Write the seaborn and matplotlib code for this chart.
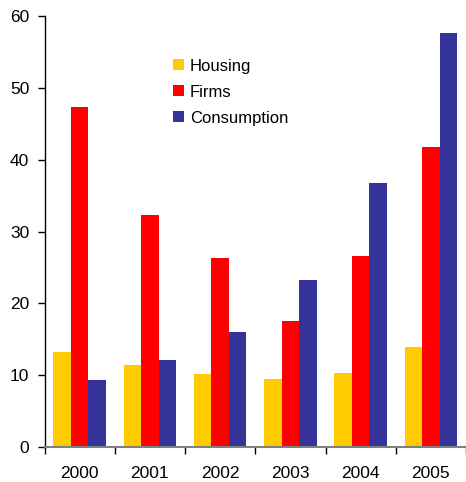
import matplotlib
matplotlib.use("Agg")
import matplotlib.pyplot as plt
import seaborn as sns
import pandas as pd
from matplotlib.ticker import FixedLocator

years = ["2000", "2001", "2002", "2003", "2004", "2005"]
housing = [13.2, 11.4, 10.2, 9.4, 10.3, 13.9]
firms = [47.3, 32.3, 26.3, 17.5, 26.6, 41.8]
consumption = [9.3, 12.1, 16.0, 23.2, 36.8, 57.6]
series = ["Housing", "Firms", "Consumption"]
colors = ["#FFCC00", "#FF0000", "#333399"]

df = pd.DataFrame({
    "year": years * 3,
    "value": housing + firms + consumption,
    "series": [s for s in series for _ in years],
})

sns.set_style("white")
plt.rcParams["font.family"] = ["Liberation Sans", "DejaVu Sans"]
plt.rcParams["text.color"] = "black"
plt.rcParams["xtick.color"] = "black"
plt.rcParams["ytick.color"] = "black"

fig = plt.figure(figsize=(4.66, 4.82), dpi=100)
ax = fig.add_axes([44.5 / 466, 35 / 482, (466 - 44.5) / 466, 431 / 482])

sns.barplot(data=df, x="year", y="value", hue="series", order=years,
            hue_order=series, palette=colors, width=0.75, gap=0,
            saturation=1, linewidth=0, ax=ax)

ax.set_xlim(-0.5, 5.5)
ax.set_ylim(0, 60)
ax.set_yticks(range(0, 61, 10))
ax.set_xlabel("")
ax.set_ylabel("")

for side in ["top", "right"]:
    ax.spines[side].set_visible(False)
ax.spines["left"].set_color("black")
ax.spines["left"].set_linewidth(1.0)
ax.spines["bottom"].set_color("#808080")
ax.spines["bottom"].set_linewidth(1.5)

ax.tick_params(axis="y", direction="out", length=5, width=1, color="black",
               pad=6, labelsize=12.5, left=True, labelcolor="black")
ax.tick_params(axis="x", which="major", length=0, pad=14, labelsize=12.5,
               labelcolor="black")
ax.xaxis.set_minor_locator(FixedLocator([i - 0.5 for i in range(len(years) + 1)]))
ax.tick_params(axis="x", which="minor", direction="out", length=5, width=1,
               color="black", bottom=True)

leg = ax.legend(loc="upper left", bbox_to_anchor=(0.27, 0.936), frameon=False,
                fontsize=12, handlelength=0.65, handleheight=0.65,
                handletextpad=0.35, labelspacing=0.66)
for t in leg.get_texts():
    t.set_color("black")

fig.savefig("out.png", dpi=100)
